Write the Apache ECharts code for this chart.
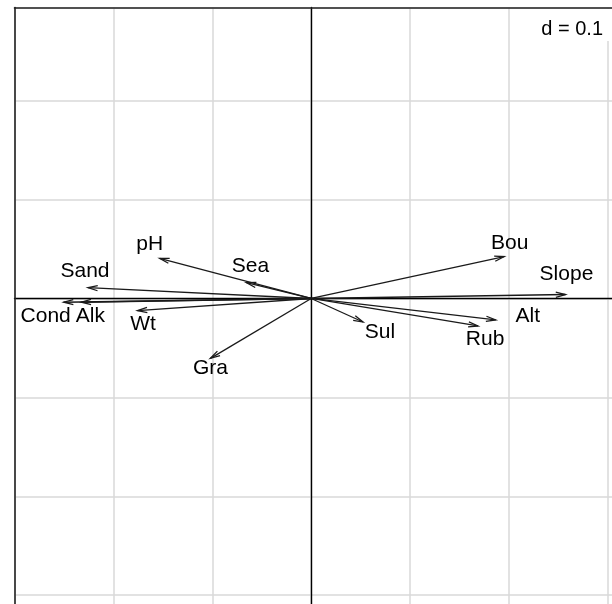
<!DOCTYPE html>
<html>
<head>
<meta charset="utf-8">
<script src="https://cdn.jsdelivr.net/npm/echarts@6/dist/echarts.min.js"></script>
<style>
  html, body { margin: 0; padding: 0; background: #fff; }
  #chart { width: 612px; height: 604px; }
</style>
</head>
<body>
<div id="chart"></div>
<script>
// Variable loadings (correlation arrows) on the first two axes
const variables = ['pH', 'Sea', 'Sand', 'Cond', 'Alk', 'Wt', 'Gra', 'Bou', 'Slope', 'Alt', 'Rub', 'Sul'];
const axis1 = [-0.1532, -0.0655, -0.2257, -0.2503, -0.2324, -0.1756, -0.1019, 0.1951, 0.2571, 0.1866, 0.1687, 0.0524];
const axis2 = [0.0406, 0.0160, 0.0109, -0.0038, -0.0038, -0.0123, -0.0605, 0.0423, 0.0040, -0.0217, -0.0278, -0.0238];

// Grid step shown in the corner
const gridStep = 0.1;
const gridStepLabel = 'd = 0.1';

// Where each label sits relative to its arrow tip, in pixels
const labelShift = [
  [-10, -14], [4, -16], [-3, -16], [-18, 14], [9, 14], [5.5, 13.5],
  [0, 10], [5.5, -13], [1, -20], [32, -4], [7, 13], [17, 10]
];

const FONT = '"Liberation Sans", Arial, Helvetica, sans-serif';
const INK = '#1a1a1a';

const chart = echarts.init(document.getElementById('chart'), null, { renderer: 'canvas' });

const points = variables.map((v, i) => [axis1[i], axis2[i], i]);

const hiddenAxisParts = {
  axisTick: { show: false },
  axisLabel: { show: false },
  splitLine: { show: false }
};

chart.setOption({
  animation: false,
  backgroundColor: '#ffffff',
  title: {
    text: gridStepLabel,
    right: 0,
    top: 9,
    backgroundColor: '#ffffff',
    padding: [10, 9, 2, 8],
    textStyle: { fontFamily: FONT, fontSize: 20, fontWeight: 'normal', color: '#000', lineHeight: 20 },
    z: 10
  },
  // the plotting frame runs past the right and bottom edges of the page
  grid: { left: 14.5, top: 7.5, width: 692.3, height: 686.6, show: false, outerBoundsMode: 'none', containLabel: false },
  xAxis: [
    {
      type: 'value', min: -0.3, max: 0.4, interval: gridStep,
      axisLine: { onZero: true, lineStyle: { color: '#000', width: 1.4 } },
      axisTick: { show: false }, axisLabel: { show: false },
      splitLine: { show: true, lineStyle: { color: '#d9d9d9', width: 1.5 } },
      z: 2
    },
    Object.assign({
      type: 'value', min: -0.3, max: 0.4, interval: gridStep, position: 'top',
      axisLine: { show: true, onZero: false, lineStyle: { color: '#222', width: 1.6 } },
      z: 3
    }, hiddenAxisParts)
  ],
  yAxis: [
    {
      type: 'value', min: -0.4, max: 0.2942, interval: gridStep,
      axisLine: { onZero: true, lineStyle: { color: '#000', width: 1.4 } },
      axisTick: { show: false }, axisLabel: { show: false },
      splitLine: { show: true, lineStyle: { color: '#d9d9d9', width: 1.5 } },
      z: 2
    },
    Object.assign({
      type: 'value', min: -0.4, max: 0.2942, interval: gridStep, position: 'left',
      axisLine: { show: true, onZero: false, lineStyle: { color: '#222', width: 1.6 } },
      z: 3
    }, hiddenAxisParts)
  ],
  series: [{
    type: 'custom',
    xAxisIndex: 0,
    yAxisIndex: 0,
    data: points,
    encode: { x: 0, y: 1 },
    z: 5,
    renderItem(params, api) {
      const i = api.value(2);
      const o = api.coord([0, 0]);
      const p = api.coord([api.value(0), api.value(1)]);
      const ang = Math.atan2(p[1] - o[1], p[0] - o[0]);
      const headLen = 10, headAng = 15 * Math.PI / 180;
      const w1 = [p[0] - headLen * Math.cos(ang - headAng), p[1] - headLen * Math.sin(ang - headAng)];
      const w2 = [p[0] - headLen * Math.cos(ang + headAng), p[1] - headLen * Math.sin(ang + headAng)];
      const lineStyle = { stroke: INK, lineWidth: 1.3, fill: null };
      return {
        type: 'group',
        children: [
          { type: 'line', shape: { x1: o[0], y1: o[1], x2: p[0], y2: p[1] }, style: lineStyle },
          { type: 'polyline', shape: { points: [w1, p, w2] }, style: lineStyle },
          {
            type: 'text',
            x: p[0] + labelShift[i][0],
            y: p[1] + labelShift[i][1],
            style: {
              text: variables[i],
              font: '21px ' + FONT,
              fill: '#000',
              align: 'center',
              verticalAlign: 'middle'
            }
          }
        ]
      };
    }
  }]
});
</script>
</body>
</html>
